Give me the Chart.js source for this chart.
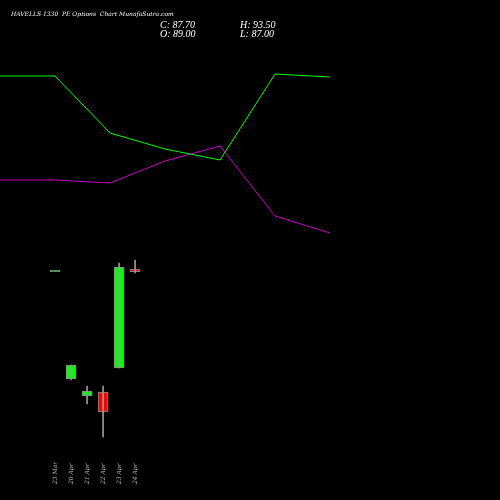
<!DOCTYPE html>
<html>
<head>
<meta charset="utf-8">
<script src="https://cdn.jsdelivr.net/npm/chart.js@4"></script>
<style>
  html, body { margin: 0; padding: 0; background: #000; }
  #wrap { width: 500px; height: 500px; }
</style>
</head>
<body>
<div id="wrap"><canvas id="chart"></canvas></div>
<script>
// Candles
const dates = ['23 Mar', '20 Apr', '21 Apr', '22 Apr', '23 Apr', '24 Apr'];
const opens = [88, 34, 25.5, 27.5, 39.5, 89];
const highs = [88, 41, 30.5, 30.5, 92, 93.5];
const lows = [88, 33.5, 21.5, 5, 39.5, 87];
const closes = [88, 41, 28, 17.5, 90, 87.7];

// Indicator lines (plotted on their own hidden scale)
const greenLine = [76, 76, 133, 149, 160, 74, 77];
const purpleLine = [180, 180, 183, 161, 146, 216, 233];

const candleColor = (i) => closes[i] >= opens[i] ? '#00ff00' : '#ff0000';

const bodies = dates.map((d, i) => ({ x: i, y: opens[i] === closes[i] ? [opens[i] - 0.3, closes[i] + 0.3] : [opens[i], closes[i]] }));
const wicks = dates.map((d, i) => ({ x: i, y: [lows[i], highs[i]] }));

const overlay = {
    id: 'overlay',
    afterDraw(chart) {
        const ctx = chart.ctx;
        const xs = chart.scales.xc;
        ctx.save();
        ctx.fillStyle = '#fff';
        ctx.font = 'italic 6px "DejaVu Serif", serif';
        ctx.fillText('HAVELLS 1330  PE Options  Chart MunafaSutra.com', 11, 16);
        ctx.font = 'italic 10px "Liberation Serif", serif';
        ctx.fillText('C: 87.70', 160, 28);
        ctx.fillText('H: 93.50', 240, 28);
        ctx.fillText('O: 89.00', 160, 37);
        ctx.fillText('L: 87.00', 240, 37);
        ctx.fillStyle = '#bbb';
        ctx.font = 'italic 6px "DejaVu Serif", serif';
        dates.forEach((d, i) => {
            ctx.save();
            ctx.translate(xs.getPixelForValue(i) + 2, 484);
            ctx.rotate(-Math.PI / 2);
            ctx.fillText(d, 0, 0);
            ctx.restore();
        });
        ctx.restore();
    }
};

new Chart(document.getElementById('chart'), {
    data: {
        datasets: [
            {
                type: 'line', data: greenLine.map((v, i) => ({ x: i, y: v })),
                xAxisID: 'xl', yAxisID: 'yl', borderColor: '#00ff00', borderWidth: 1,
                pointRadius: 0, tension: 0
            },
            {
                type: 'line', data: purpleLine.map((v, i) => ({ x: i, y: v })),
                xAxisID: 'xl', yAxisID: 'yl', borderColor: '#cc00cc', borderWidth: 1,
                pointRadius: 0, tension: 0
            },
            {
                type: 'bar', data: wicks, xAxisID: 'xc', yAxisID: 'yc', grouped: false,
                backgroundColor: '#999', barThickness: 1
            },
            {
                type: 'bar', data: bodies, xAxisID: 'xc', yAxisID: 'yc', grouped: false,
                backgroundColor: dates.map((d, i) => candleColor(i)),
                borderColor: '#888', borderWidth: 1, borderSkipped: false, barThickness: 10
            }
        ]
    },
    options: {
        responsive: true,
        maintainAspectRatio: false,
        animation: false,
        layout: { padding: 0 },
        plugins: { legend: { display: false }, tooltip: { enabled: false } },
        scales: {
            xc: { type: 'linear', display: false, offset: false, min: -3.44, max: 27.8 },
            yc: { type: 'linear', display: false, min: -26.5, max: 223.5 },
            xl: { type: 'linear', display: false, offset: false, min: 0, max: 9.09 },
            yl: { type: 'linear', display: false, min: 0, max: 500, reverse: true }
        }
    },
    plugins: [overlay]
});
</script>
</body>
</html>
